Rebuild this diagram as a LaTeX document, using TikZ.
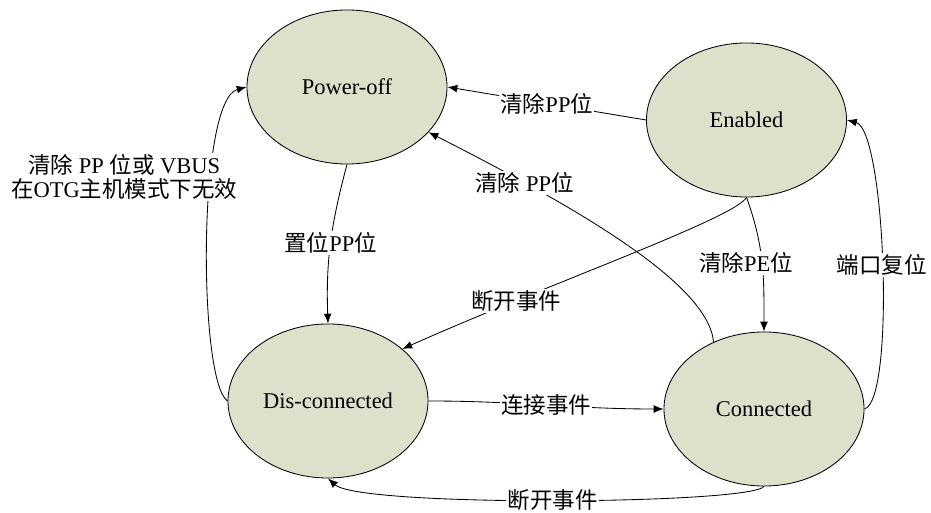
\documentclass[tikz,border=0pt]{standalone}
\usepackage{fontspec}
\setmainfont{Liberation Serif}
\newfontfamily\cjk{Noto Sans CJK SC}
\usetikzlibrary{shapes.geometric, arrows.meta}
\newcommand{\zh}[1]{{\cjk #1}}
\definecolor{statefill}{RGB}{221,224,203}

\begin{document}
\begin{tikzpicture}[x=0.025cm, y=0.025cm, line width=0.6pt,
        font=\fontsize{16}{17}\selectfont,
        >={Latex[length=7pt,width=5.5pt]},
        state/.style={ellipse, draw, fill=statefill, minimum width=5cm, minimum height=3.85cm, inner sep=0pt},
        lbl/.style={fill=white, inner sep=1pt}]

        \useasboundingbox (0,0) rectangle (931,512);

        % States
        \node[state] (pwr) at (347,425) {Power-off};
        \node[state] (enb) at (746.5,392) {Enabled};
        \node[state] (dis) at (328,111) {Dis-connected};
        \node[state] (con) at (764,103) {Connected};

        % Back to Power-off
        \draw[->] (enb.west) -- node[lbl] {\zh{清除}PP\zh{位}} (pwr.east);
        \draw[->] (con.127) to[out=95, in=-27, out distance=1.5cm, in distance=4cm]
            node[lbl, pos=0.77] {\zh{清除} PP\zh{位}} (pwr.-29);
        \draw[->] (dis.west) to[out=147, in=195, out distance=0.87cm, in distance=1.28cm]
            node[lbl, pos=0.65, xshift=-2.2cm, align=center] {\zh{清除} PP \zh{位或} VBUS\\\zh{在}OTG\zh{主机模式下无效}} (pwr.west);

        % Leaving Power-off
        \draw[->] (pwr.south) to[out=-105, in=92] node[lbl] {\zh{置位}PP\zh{位}} (dis.north);

        % Leaving Enabled
        \draw[->] (enb.south) to[out=-120, in=24, out distance=0.6cm, in distance=4cm]
            node[lbl, pos=0.75] {\zh{断开事件}} (dis.35);
        \draw[->] (enb.south) to[out=-70, in=90] node[lbl, xshift=-0.4cm] {\zh{清除}PE\zh{位}} (con.north);

        % Dis-connected <-> Connected
        \draw[->] (dis.east) to[out=0, in=180] node[lbl] {\zh{连接事件}} (con.west);
        \draw[->] (con.south) to[out=-128, in=-42, out distance=0.57cm, in distance=1.08cm]
            node[lbl] {\zh{断开事件}} (dis.south);

        % Port reset
        \draw[->] (con.east) to[out=15, in=-15, out distance=0.8cm, in distance=1cm]
            node[lbl] {\zh{端口复位}} (enb.east);

\end{tikzpicture}
\end{document}
